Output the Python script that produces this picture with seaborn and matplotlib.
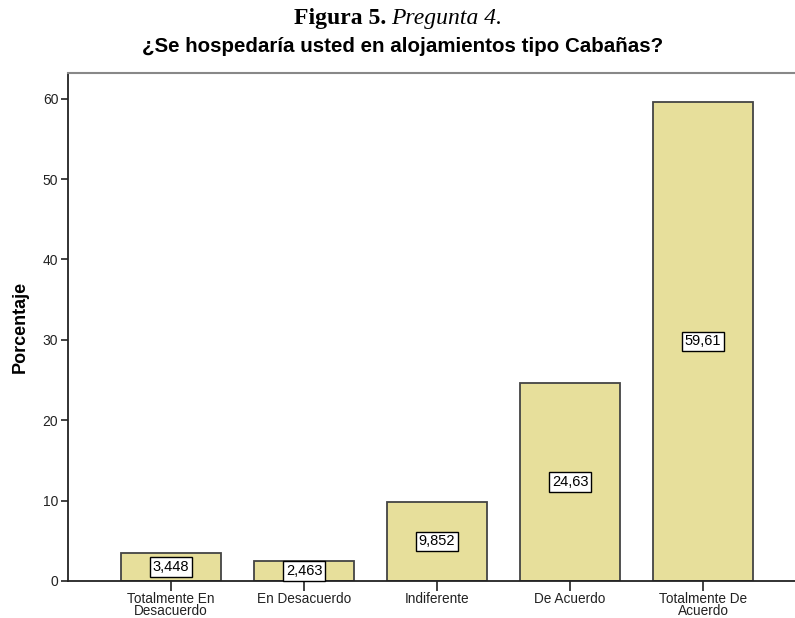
import matplotlib
matplotlib.use("Agg")
import matplotlib.pyplot as plt
import seaborn as sns
import pandas as pd

# data
categorias = ["Totalmente En\nDesacuerdo", "En Desacuerdo", "Indiferente",
              "De Acuerdo", "Totalmente De\nAcuerdo"]
porcentaje = [3.448, 2.463, 9.852, 24.63, 59.61]
etiquetas = ["3,448", "2,463", "9,852", "24,63", "59,61"]
yticks = [0, 10, 20, 30, 40, 50, 60]

df = pd.DataFrame({"categoria": categorias, "porcentaje": porcentaje})

sns.set_style("white")
plt.rcParams["font.family"] = ["Liberation Sans", "DejaVu Sans"]
plt.rcParams["text.color"] = "black"
plt.rcParams["axes.labelcolor"] = "black"
plt.rcParams["xtick.color"] = "#222222"
plt.rcParams["ytick.color"] = "#222222"

fig = plt.figure(figsize=(7.95, 6.18), dpi=100)
ax = fig.add_axes([0.0855, 0.060, 0.9145, 0.822])

sns.barplot(data=df, x="categoria", y="porcentaje", color="#e7df9b",
            edgecolor="#444444", linewidth=1.3, width=0.75, saturation=1, ax=ax)

ax.bar_label(ax.containers[0], labels=etiquetas, label_type="center",
             fontsize=10.5, color="black",
             bbox=dict(boxstyle="square,pad=0.18", fc="white", ec="black", lw=1))

ax.set_ylim(0, 63.2)
ax.set_xlim(-0.774, 4.69)
ax.set_yticks(yticks)
ax.set_xlabel("")
ax.set_ylabel("Porcentaje", fontsize=13, fontweight="bold", labelpad=10)

for s in ["left", "bottom"]:
    ax.spines[s].set_color("#222222")
    ax.spines[s].set_linewidth(1.3)
ax.spines["top"].set_color("#888888")
ax.spines["top"].set_linewidth(1.5)
ax.spines["right"].set_visible(False)

ax.tick_params(axis="y", direction="out", length=5, width=1.2,
               labelsize=10, labelcolor="#222222", pad=2, left=True)
ax.tick_params(axis="x", direction="out", length=7, width=1.2,
               labelsize=9.8, labelcolor="#222222", pad=1, bottom=True)
for t in ax.get_xticklabels():
    t.set_linespacing(0.78)

fig.text(0.4855, 0.970, "Figura 5.", ha="right", va="center",
         family="Liberation Serif", fontweight="bold", fontsize=17)
fig.text(0.4920, 0.970, "Pregunta 4.", ha="left", va="center",
         family="Liberation Serif", style="italic", fontsize=17)
fig.text(0.506, 0.924, "¿Se hospedaría usted en alojamientos tipo Cabañas?",
         ha="center", va="center", fontweight="bold", fontsize=14.8)

fig.savefig("out.png", dpi=100)
